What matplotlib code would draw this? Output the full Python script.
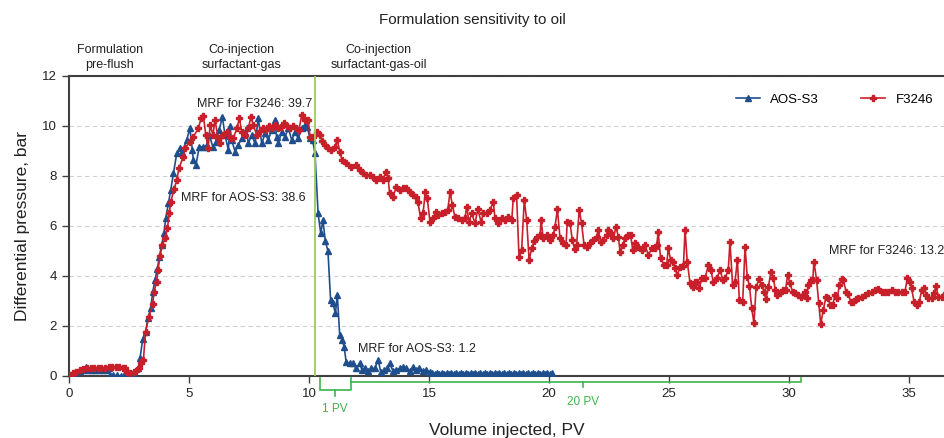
import matplotlib
matplotlib.use("Agg")
import matplotlib.pyplot as plt

plt.rcParams['font.family'] = ['Liberation Sans', 'DejaVu Sans']

# F3246 (red)
f_x = [0.0, 0.15, 0.3, 0.45, 0.6, 0.75, 0.9, 1.05, 1.2, 1.35, 1.5, 1.65, 1.8, 1.95, 2.1, 2.25, 2.33, 2.4,
       2.55, 2.7, 2.8, 2.9, 3.0, 3.1, 3.19, 3.33, 3.49, 3.54, 3.65, 3.71, 3.79, 3.89, 4.0, 4.1, 4.18, 4.24,
       4.38, 4.49, 4.58, 4.76, 4.83, 5.04, 5.18, 5.39, 5.5, 5.6, 5.7, 5.8, 5.88, 6.0, 6.08, 6.22, 6.29, 6.43,
       6.57, 6.7, 6.85, 6.99, 7.1, 7.2, 7.33, 7.47, 7.58, 7.68, 7.82, 7.95, 8.08, 8.2, 8.33, 8.45, 8.58, 8.7,
       8.83, 8.95, 9.08, 9.2, 9.33, 9.45, 9.58, 9.7, 9.83, 9.97, 10.04, 10.17, 10.32, 10.46, 10.55, 10.65,
       10.79, 10.93, 11.07, 11.18, 11.28, 11.38, 11.55, 11.76, 11.97, 12.11, 12.25, 12.39, 12.53, 12.67, 12.8,
       12.94, 13.08, 13.2, 13.3, 13.36, 13.5, 13.64, 13.78, 13.92, 14.06, 14.2, 14.33, 14.47, 14.54, 14.65,
       14.75, 14.85, 14.93, 15.04, 15.18, 15.28, 15.39, 15.53, 15.67, 15.78, 15.88, 15.97, 16.08, 16.22,
       16.36, 16.5, 16.57, 16.67, 16.78, 16.92, 17.03, 17.17, 17.26, 17.4, 17.54, 17.68, 17.75, 17.89, 18.03,
       18.17, 18.3, 18.45, 18.51, 18.65, 18.75, 18.86, 18.97, 19.07, 19.17, 19.28, 19.39, 19.49, 19.63,
       19.67, 19.76, 19.9, 20.04, 20.18, 20.25, 20.35, 20.46, 20.6, 20.71, 20.76, 20.88, 20.97, 21.07, 21.15,
       21.26, 21.36, 21.46, 21.57, 21.71, 21.85, 21.99, 22.05, 22.15, 22.26, 22.4, 22.47, 22.57, 22.68, 22.79,
       22.89, 22.96, 23.07, 23.17, 23.3, 23.4, 23.49, 23.58, 23.72, 23.86, 24.0, 24.14, 24.28, 24.42, 24.49,
       24.55, 24.65, 24.79, 24.9, 24.97, 25.07, 25.18, 25.25, 25.35, 25.46, 25.6, 25.67, 25.76, 25.88, 25.99,
       26.08, 26.18, 26.26, 26.36, 26.5, 26.64, 26.74, 26.85, 26.99, 27.13, 27.24, 27.33, 27.47, 27.54, 27.65,
       27.75, 27.85, 27.93, 28.07, 28.17, 28.26, 28.35, 28.45, 28.54, 28.63, 28.75, 28.86, 28.96, 29.04,
       29.14, 29.25, 29.35, 29.43, 29.51, 29.63, 29.76, 29.86, 29.94, 30.04, 30.15, 30.25, 30.39, 30.49,
       30.6, 30.67, 30.74, 30.8, 30.9, 30.99, 31.04, 31.15, 31.24, 31.32, 31.43, 31.54, 31.64, 31.71, 31.82,
       31.92, 32.01, 32.1, 32.19, 32.26, 32.38, 32.47, 32.57, 32.67, 32.79, 32.89, 33.03, 33.17, 33.3, 33.44,
       33.58, 33.72, 33.86, 34.0, 34.14, 34.28, 34.42, 34.55, 34.7, 34.83, 34.93, 35.04, 35.11, 35.21, 35.32,
       35.43, 35.53, 35.63, 35.71, 35.8, 35.94, 36.04, 36.13, 36.22, 36.36, 36.46, 36.6]
f_y = [0.05, 0.1, 0.17, 0.23, 0.27, 0.3, 0.32, 0.33, 0.33, 0.33, 0.33, 0.34, 0.34, 0.34, 0.34, 0.33, 0.3, 0.15,
       0.13, 0.15, 0.2, 0.3, 0.5, 0.64, 1.77, 2.37, 2.88, 3.37, 3.77, 4.24, 4.8, 5.24, 5.5, 5.9, 6.53, 6.97,
       7.47, 7.84, 8.3, 8.77, 9.1, 9.37, 9.57, 9.9, 10.3, 10.4, 9.64, 9.1, 10.04, 9.64, 10.24, 9.5, 9.3, 9.64,
       9.77, 9.5, 9.5, 9.9, 10.3, 9.77, 9.64, 9.9, 10.37, 10.04, 9.64, 9.8, 9.9, 9.85, 10.0, 9.9, 10.05, 9.9,
       9.95, 10.1, 10.0, 9.9, 10.0, 9.9, 9.85, 10.44, 10.24, 10.24, 9.57, 9.57, 9.77, 9.64, 9.4, 9.24,
       9.1, 9.04, 9.17, 9.44, 8.97, 8.64, 8.5, 8.37, 8.44, 8.24, 8.1, 8.04, 8.04, 7.97, 7.84,
       7.97, 7.84, 8.17, 7.9, 7.3, 7.17, 7.57, 7.44, 7.5, 7.5, 7.37, 7.24, 7.17, 6.97, 6.3,
       6.5, 7.37, 7.1, 6.17, 6.3, 6.57, 6.44, 6.5, 6.57, 6.64, 7.37, 6.84, 6.37, 6.3,
       6.24, 6.3, 6.77, 6.17, 6.5, 6.1, 6.67, 6.17, 6.5, 6.5, 6.64, 6.97, 6.3, 6.1, 6.3,
       6.24, 6.37, 6.24, 7.1, 7.24, 4.77, 5.04, 7.04, 6.24, 4.64, 5.1, 5.41, 5.57, 5.64,
       6.24, 5.5, 5.64, 5.44, 5.64, 5.97, 6.67, 5.5, 5.3, 5.24, 6.17, 6.1, 5.44, 5.07, 5.24,
       6.64, 6.1, 5.24, 5.17, 5.3, 5.44, 5.57, 5.84, 5.37, 5.44, 5.64, 5.84, 5.7, 5.5, 5.97,
       5.57, 4.97, 5.24, 5.5, 5.64, 5.64, 5.04, 5.3, 5.17, 5.04, 5.24, 4.84, 5.1, 5.1, 5.24,
       5.77, 4.7, 4.44, 4.44, 5.1, 4.64, 4.57, 4.3, 4.04, 4.37, 4.4, 5.84, 4.57, 3.7, 3.57,
       3.77, 3.77, 3.5, 3.9, 3.9, 4.44, 4.24, 3.77, 3.9, 4.24, 3.84, 3.9, 4.24, 5.37, 3.64,
       3.77, 4.64, 3.04, 2.97, 5.17, 3.97, 3.6, 2.7, 2.1, 3.57, 3.86, 3.64, 3.37, 3.06,
       3.57, 4.17, 3.9, 3.44, 3.24, 3.3, 3.44, 3.44, 4.04, 3.7, 3.37, 3.3, 3.24, 3.17,
       3.24, 3.37, 3.1, 3.64, 3.84, 3.84, 4.57, 3.84, 2.93, 2.08, 2.64, 3.17, 3.1, 2.84, 2.84,
       3.24, 3.1, 3.64, 3.86, 3.84, 3.37, 3.28, 2.97, 2.97, 3.06, 3.1, 3.17, 3.24, 3.3, 3.37,
       3.44, 3.47, 3.37, 3.34, 3.37, 3.44, 3.37, 3.34, 3.37, 3.37, 3.9, 3.77, 3.5, 2.97, 2.84,
       2.97, 3.44, 3.5, 3.24, 3.1, 3.1, 3.3, 3.6, 3.17, 3.17, 3.24, 3.2]

# AOS-S3 (blue)
a_x = [0.0, 0.1, 0.2, 0.32, 0.45, 0.6, 0.71, 0.8, 0.95, 1.1, 1.25, 1.4, 1.55, 1.65, 1.71, 1.85, 2.0, 2.15,
       2.3, 2.45, 2.6, 2.75, 2.89, 2.96, 3.07, 3.19, 3.29, 3.4, 3.49, 3.58, 3.68, 3.76, 3.86, 3.96, 4.03,
       4.14, 4.24, 4.35, 4.49, 4.63, 4.72, 4.9, 5.04, 5.14, 5.18, 5.29, 5.43, 5.57, 5.71, 5.85, 5.99, 6.12,
       6.26, 6.39, 6.5, 6.64, 6.7, 6.78, 6.92, 7.05, 7.2, 7.33, 7.4, 7.47, 7.61, 7.75, 7.89, 8.03, 8.17, 8.3,
       8.45, 8.58, 8.65, 8.72, 8.86, 9.0, 9.14, 9.28, 9.42, 9.55, 9.7, 9.83, 9.93, 10.04, 10.15, 10.25,
       10.38, 10.49, 10.58, 10.68, 10.79, 10.9, 11.0, 11.1, 11.18, 11.28, 11.39, 11.46, 11.55, 11.7, 11.83,
       11.97, 12.11, 12.21, 12.32, 12.46, 12.6, 12.74, 12.88, 12.99, 13.13, 13.26, 13.36, 13.5, 13.64,
       13.78, 13.92, 14.06, 14.2, 14.33, 14.47, 14.6, 14.75, 14.89, 15.03,
       15.13, 15.23, 15.33, 15.43, 15.53, 15.63, 15.73, 15.83, 15.93, 16.03, 16.13, 16.23, 16.33, 16.43,
       16.53, 16.63, 16.73, 16.83, 16.93, 17.03, 17.13, 17.23, 17.33, 17.43, 17.53, 17.63, 17.73, 17.83,
       17.93, 18.03, 18.13, 18.23, 18.33, 18.43, 18.53, 18.63, 18.73, 18.83, 18.93, 19.03, 19.13, 19.23,
       19.33, 19.43, 19.53, 19.63, 19.73, 19.83, 19.93, 20.03, 20.13]
a_y = [0.0, 0.05, 0.1, 0.17, 0.2, 0.25, 0.37, 0.25, 0.22, 0.22, 0.22, 0.22, 0.22, 0.3, 0.05, 0.02, 0.02, 0.0,
       0.02, 0.0, 0.02, 0.0, 0.3, 0.7, 1.47, 1.77, 2.3, 2.7, 3.34, 3.84, 4.27, 4.74, 5.24, 5.73, 6.3,
       6.9, 7.44, 8.1, 8.9, 9.1, 8.97, 9.44, 9.9, 9.04, 8.64, 8.44, 9.17, 9.17, 9.17, 9.64, 9.17, 9.37,
       9.84, 10.37, 9.64, 9.04, 10.0, 9.44, 8.97, 9.24, 9.5, 9.7, 9.9, 9.3, 9.64, 9.3, 10.3, 9.3, 9.7, 9.44,
       9.84, 10.24, 9.57, 9.3, 9.77, 9.57, 9.9, 9.44, 9.77, 9.5, 9.9, 10.04, 9.97, 9.5, 9.44, 8.9,
       6.5, 5.7, 6.24, 5.4, 5.0, 3.04, 2.9, 2.5, 3.24, 1.64, 1.44, 1.17, 0.57, 0.5, 0.5,
       0.3, 0.5, 0.24, 0.3, 0.2, 0.3, 0.3, 0.64, 0.17, 0.24, 0.3, 0.5, 0.2, 0.24,
       0.3, 0.37, 0.3, 0.2, 0.37, 0.24, 0.3, 0.2, 0.24, 0.15,
       0.1, 0.08, 0.1, 0.08, 0.1, 0.08, 0.1, 0.08, 0.1, 0.08, 0.1, 0.08, 0.1, 0.08,
       0.1, 0.08, 0.1, 0.08, 0.1, 0.08, 0.1, 0.08, 0.1, 0.08, 0.1, 0.08, 0.1, 0.08,
       0.1, 0.08, 0.1, 0.08, 0.1, 0.08, 0.1, 0.08, 0.1, 0.08, 0.1, 0.08, 0.1, 0.08,
       0.1, 0.08, 0.1, 0.08, 0.1, 0.08, 0.1, 0.08, 0.1]

phase_labels = ['Formulation\npre-flush', 'Co-injection\nsurfactant-gas', 'Co-injection\nsurfactant-gas-oil']
phase_pos = [1.7, 7.2, 12.9]
oil_start = 10.25

blue = '#1f4e8c'
red = '#c8202a'
green = '#3cb44b'
dark = '#404040'
txt = '#222222'

fig = plt.figure(figsize=(9.45, 4.38), dpi=100)
ax = fig.add_axes([0.073, 0.1416, 0.927, 0.6849])

ax.plot(a_x, a_y, color=blue, lw=1.2, marker='^', ms=5, label='AOS-S3', zorder=3)
ax.plot(f_x, f_y, color=red, lw=1.2, marker='P', ms=4, label='F3246', zorder=4)
ax.axvline(oil_start, color='#9ccb5a', lw=1.3, zorder=5)

ax.set_xlim(0, 36.5)
ax.set_ylim(0, 12)
ax.set_xticks([0, 5, 10, 15, 20, 25, 30, 35])
ax.set_yticks([0, 2, 4, 6, 8, 10, 12])
ax.yaxis.grid(True, ls=(0, (4, 3)), color='#d0d0d0', lw=0.8)
ax.set_axisbelow(True)
for s in ['left', 'bottom', 'top']:
    ax.spines[s].set_color(dark)
    ax.spines[s].set_linewidth(1.5)
ax.spines['right'].set_visible(False)
ax.tick_params(colors=dark, labelsize=9.5, length=5, width=1, labelcolor=txt)

ax.set_xlabel('Volume injected, PV', fontsize=12.5, labelpad=17, color=txt)
ax.set_ylabel('Differential pressure, bar', fontsize=12.5, labelpad=9, color=txt)
fig.suptitle('Formulation sensitivity to oil', fontsize=11, y=0.97, color=txt)

for lab, xp in zip(phase_labels, phase_pos):
    ax.text(xp, 12.2, lab, ha='center', va='bottom', fontsize=9, color=txt, linespacing=1.35)

ax.text(7.75, 10.88, 'MRF for F3246: 39.7', ha='center', va='center', fontsize=9, color=txt)
ax.text(4.67, 7.12, 'MRF for AOS-S3: 38.6', ha='left', va='center', fontsize=9, color=txt)
ax.text(12.04, 1.08, 'MRF for AOS-S3: 1.2', ha='left', va='center', fontsize=9, color=txt)
ax.text(31.67, 5.0, 'MRF for F3246: 13.2', ha='left', va='center', fontsize=9, color=txt)

# brackets below axis
b1 = [10.45, 11.75]
b2 = [11.75, 30.5]
ax.plot([b1[0], b1[0], b1[1], b1[1]], [-0.1, -0.56, -0.56, -0.1], color=green, lw=1.2, clip_on=False)
ax.plot([sum(b1) / 2] * 2, [-0.56, -0.8], color=green, lw=1.2, clip_on=False)
ax.plot([b2[0], b2[0], b2[1], b2[1]], [-0.24, -0.24, -0.24, -0.1], color=green, lw=1.2, clip_on=False)
ax.plot([21.4, 21.4], [-0.24, -0.44], color=green, lw=1.2, clip_on=False)
ax.text(11.08, -1.32, '1 PV', ha='center', va='center', fontsize=8.5, color=green)
ax.text(21.4, -1.04, '20 PV', ha='center', va='center', fontsize=8.5, color=green)

ax.legend(loc='upper right', ncol=2, frameon=False, fontsize=9.5, handlelength=1.8,
          columnspacing=3.2, bbox_to_anchor=(1.0, 0.98))

fig.savefig('out.png', dpi=100)
